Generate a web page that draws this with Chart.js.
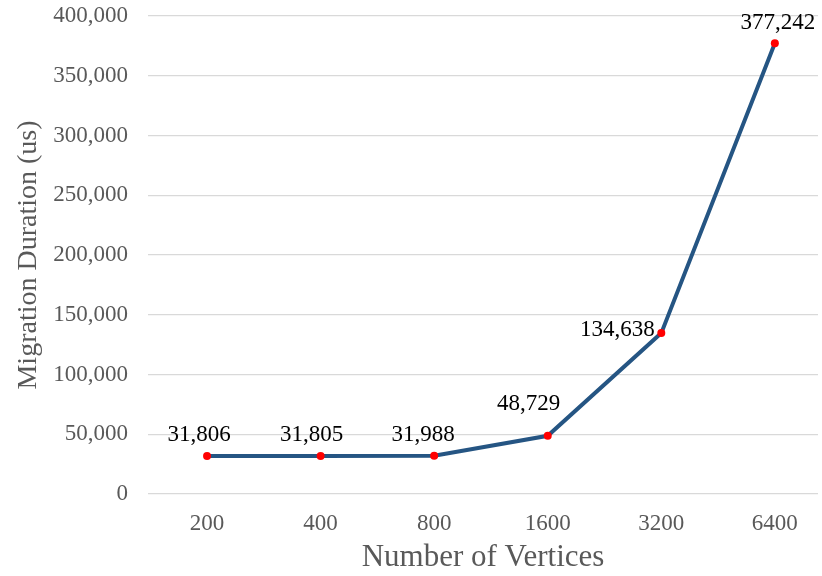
<!DOCTYPE html>
<html>
<head>
<meta charset="utf-8">
<script src="https://cdn.jsdelivr.net/npm/chart.js@4"></script>
<style>
  html, body { margin: 0; padding: 0; background: #fff; }
  #wrap { width: 822px; height: 576px; }
</style>
</head>
<body>
<div id="wrap"><canvas id="chart"></canvas></div>
<script>
const vertices = ['200', '400', '800', '1600', '3200', '6400'];
const durations = [31806, 31805, 31988, 48729, 134638, 377242];

// label offsets from each point (x, y)
const labelShift = [[-8, -21], [-9, -21], [-11, -21], [-19, -32], [-44, -3], [3, -20]];

const pointLabels = {
  id: 'pointLabels',
  afterDatasetsDraw(chart) {
    const ctx = chart.ctx;
    const meta = chart.getDatasetMeta(0);
    ctx.save();
    ctx.font = '23px "Liberation Serif"';
    ctx.fillStyle = '#000';
    ctx.textAlign = 'center';
    ctx.textBaseline = 'middle';
    meta.data.forEach((pt, i) => {
      const s = labelShift[i];
      ctx.fillText(durations[i].toLocaleString('en-US'), pt.x + s[0], pt.y + s[1]);
    });
    ctx.restore();
  }
};

new Chart(document.getElementById('chart').getContext('2d'), {
  type: 'line',
  data: {
    datasets: [{
      data: durations.map((d, i) => ({ x: i, y: d })),
      borderColor: '#255583',
      borderWidth: 4,
      pointBackgroundColor: '#ff0000',
      pointBorderColor: '#ff0000',
      pointRadius: 4,
      pointBorderWidth: 0,
      tension: 0
    }]
  },
  options: {
    responsive: true,
    maintainAspectRatio: false,
    animation: false,
    layout: { padding: { left: 12, right: 0, top: 16, bottom: 0 } },
    plugins: {
      legend: { display: false },
      tooltip: { enabled: false }
    },
    scales: {
      x: {
        type: 'linear',
        min: -0.52,
        max: 5.38,
        afterBuildTicks: scale => { scale.ticks = vertices.map((v, i) => ({ value: i })); },
        afterFit: scale => { scale.height = 82; },
        grid: { display: false },
        border: { display: false },
        ticks: {
          callback: v => vertices[v],
          color: '#595959',
          font: { family: 'Liberation Serif', size: 23 },
          padding: 8,
          maxRotation: 0,
          autoSkip: false
        },
        title: {
          display: true,
          text: 'Number of Vertices',
          color: '#595959',
          font: { family: 'Liberation Serif', size: 31 },
          padding: 0
        }
      },
      y: {
        min: 0,
        max: 400000,
        afterFit: scale => {
          scale.width = 136;
          scale.paddingTop = 0;
          scale.paddingBottom = 0;
        },
        grid: { color: '#d9d9d9', lineWidth: 1.3, drawTicks: false },
        border: { display: false },
        ticks: {
          stepSize: 50000,
          callback: v => v.toLocaleString('en-US'),
          color: '#595959',
          font: { family: 'Liberation Serif', size: 23 },
          padding: 20
        },
        title: {
          display: true,
          text: 'Migration Duration (us)',
          color: '#595959',
          font: { family: 'Liberation Serif', size: 28 },
          padding: 0
        }
      }
    }
  },
  plugins: [pointLabels]
});
</script>
</body>
</html>
